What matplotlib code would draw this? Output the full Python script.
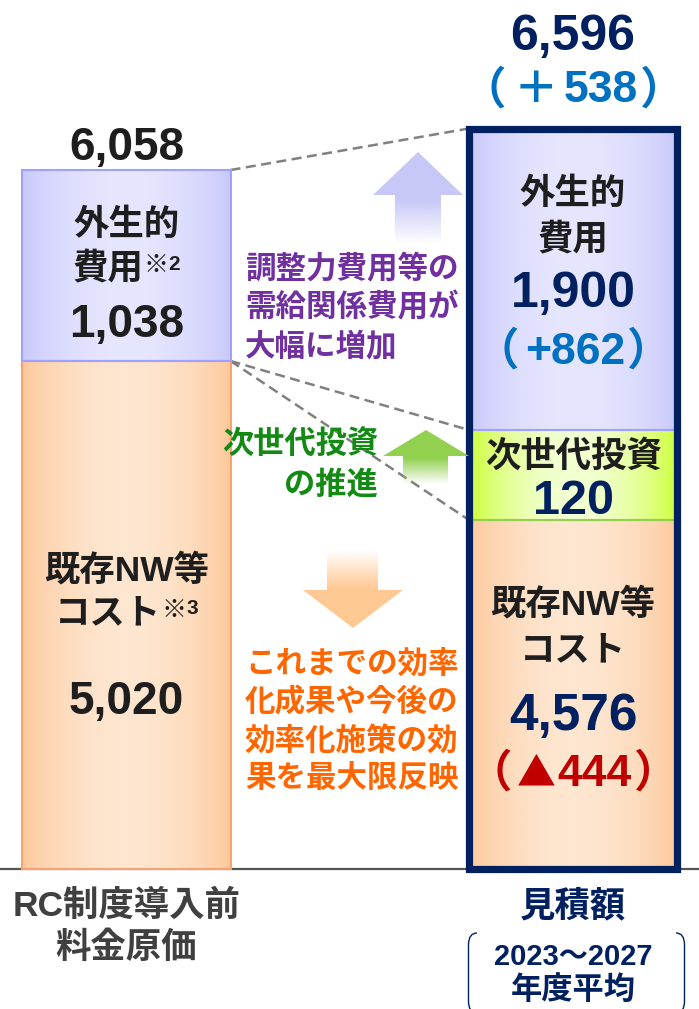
import numpy as np
import matplotlib
matplotlib.use("Agg")
import matplotlib.pyplot as plt
from matplotlib.patches import Polygon, PathPatch
from matplotlib.path import Path

# ---------------- data ----------------
bar_names = ["RC制度導入前\n料金原価", "見積額"]
segment_names = ["既存NW等\nコスト", "次世代投資", "外生的\n費用"]
before_costs = [5020, 0, 1038]
estimate_costs = [4576, 120, 1900]
period_label = ["2023～2027", "年度平均"]
notes = ["調整力費用等の", "需給関係費用が", "大幅に増加"]
invest_note = ["次世代投資", "の推進"]
eff_note = ["これまでの効率", "化成果や今後の", "効率化施策の効", "果を最大限反映"]

before_total = sum(before_costs)
estimate_total = sum(estimate_costs)
diffs = [e - b for e, b in zip(estimate_costs, before_costs)]
total_diff = estimate_total - before_total

# ---------------- style / layout ----------------
W, H = 699, 1009
FAM = ["Liberation Sans", "Noto Sans CJK JP", "DejaVu Sans"]
CJK = ["Noto Sans CJK JP", "DejaVu Sans"]
NAVY = "#002060"
BLUE = "#0070C0"
RED = "#C00000"
BLACK = "#1E1E1E"
PURPLE = "#7030A0"
GREEN_T = "#138A13"
ORANGE_T = "#FF6600"
GREY_T = "#404040"

# schematic (not-to-scale) vertical mapping used in the original slide
anchor_vals = sorted(set([0] + list(np.cumsum(before_costs)) + list(np.cumsum(estimate_costs))))
anchor_px = [0, 349, 439, 508, 699, 740.5]

def fwd(v):
    return np.interp(v, anchor_vals, anchor_px)

def inv(p):
    return np.interp(p, anchor_px, anchor_vals)

BASE_PX = 869

fig = plt.figure(figsize=(W / 100, H / 100), dpi=100)
fig.patch.set_facecolor("white")

ax = fig.add_axes([0, (H - BASE_PX) / H, 1, anchor_px[-1] / H])
ax.set_yscale("function", functions=(fwd, inv))
ax.axis("off")

ov = fig.add_axes([0, 0, 1, 1])
ov.set_xlim(0, W)
ov.set_ylim(H, 0)
ov.axis("off")

PX_PER_UNIT = 446.5
X0_PX = 126.5
xs = [0, 1]
bw = 0.466

def grad_img(edge, center, n=256):
    t = np.linspace(0, 1, n)
    w = np.sin(np.pi * t) ** 0.8
    edge = np.array(matplotlib.colors.to_rgb(edge))
    center = np.array(matplotlib.colors.to_rgb(center))
    rgb = edge[None, :] + (center - edge)[None, :] * w[:, None]
    return rgb[None, :, :]

seg_fill = [("#FDC89A", "#FEE6D0"), ("#CCFF33", "#F2FFD2"), ("#C8C8FA", "#E6E6FF")]
seg_edge = ["#F7A272", "#92D050", "#A0A0FF"]

def draw_stack(xpos, vals):
    bottom = 0
    for i, v in enumerate(vals):
        if v <= 0:
            continue
        bars = ax.bar(xpos, v, bottom=bottom, width=bw, facecolor="none",
                      edgecolor=seg_edge[i], linewidth=1.5, zorder=3, clip_on=False)
        p = bars.patches[0]
        x0 = p.get_x()
        im = ax.imshow(grad_img(*seg_fill[i]), extent=(x0, x0 + p.get_width(), 0, 1),
                       transform=ax.get_xaxis_transform(), aspect="auto",
                       interpolation="bilinear", zorder=2)
        im.set_clip_path(p)
        bottom += v

# baseline
ax.axhline(0, color="#555555", linewidth=1.6, zorder=1, clip_on=False)

draw_stack(xs[0], before_costs)
draw_stack(xs[1], estimate_costs)
outline = ax.bar(xs[1], estimate_total, width=bw, facecolor="none", edgecolor=NAVY,
                 linewidth=5.2, zorder=6, clip_on=False)
outline.patches[0].set_joinstyle("miter")

# dashed connectors
xl, xr = xs[0] + bw / 2, xs[1] - bw / 2
dash = dict(color="#808080", linewidth=1.8, linestyle=(0, (4, 2.2)), zorder=1, clip_on=False)
ax.plot([xl, xr], [before_total, estimate_total], **dash)
ax.plot([xl, xr], [before_costs[0], estimate_costs[0] + estimate_costs[1]], **dash)
ax.plot([xl, xr], [before_costs[0], estimate_costs[0]], **dash)

ax.set_xlim(-X0_PX / PX_PER_UNIT, (W - X0_PX) / PX_PER_UNIT)
ax.set_ylim(0, estimate_total)

# ---------------- arrows ----------------
def arrow(verts, color, y_solid, y_clear):
    poly = Polygon(verts, closed=True, facecolor="none", edgecolor="none", zorder=2)
    ov.add_patch(poly)
    ys = [v[1] for v in verts]
    xs_ = [v[0] for v in verts]
    y0, y1 = min(ys), max(ys)
    n = 200
    yy = np.linspace(y0, y1, n)
    a = np.clip((yy - y_clear) / (y_solid - y_clear), 0, 1)
    rgba = np.zeros((n, 1, 4))
    rgba[:, 0, :3] = matplotlib.colors.to_rgb(color)
    rgba[:, 0, 3] = a
    im = ov.imshow(rgba, extent=(min(xs_), max(xs_), y1, y0), origin="upper",
                   aspect="auto", interpolation="bilinear", zorder=2)
    im.set_clip_path(poly)

arrow([(418, 152), (463, 195), (441, 195), (441, 244), (395, 244), (395, 195), (373, 195)],
      "#C8C8F8", 200, 244)
arrow([(426, 430), (469, 456), (448, 456), (448, 484), (403, 484), (403, 456), (383, 456)],
      "#92D050", 458, 484)
arrow([(327, 550), (378, 550), (378, 590), (403, 590), (353, 628), (303, 590), (327, 590)],
      "#FFC993", 588, 550)

# bracket around period label
def bracket(x_edge, x_in, y0, y1):
    r = 12
    verts = [(x_in, y0), (x_edge, y0), (x_edge, y0 + r), (x_edge, y1 - r), (x_edge, y1), (x_in, y1)]
    codes = [Path.MOVETO, Path.CURVE3, Path.CURVE3, Path.LINETO, Path.CURVE3, Path.CURVE3]
    ov.add_patch(PathPatch(Path(verts, codes), facecolor="none", edgecolor=NAVY, linewidth=1.0, zorder=3))

bracket(468.5, 477, 933, 1013)
bracket(684.5, 676, 933, 1013)

# ---------------- text ----------------
DY = 3

def T(x, y, s, size, color, ha="center", va="center", family=None):
    return ov.text(x, y + DY, s, fontsize=size, color=color, fontweight="bold",
                   family=family or FAM, ha=ha, va=va, zorder=10)

renderer = fig.canvas.get_renderer()

def row(cx, y, parts):
    texts = []
    gaps = []
    for part in parts:
        s, size, color, dy, gap = part[:5]
        fam = part[5] if len(part) > 5 else None
        texts.append(T(0, y + dy, s, size, color, ha="left", family=fam))
        gaps.append(gap)
    widths = [t.get_window_extent(renderer).width for t in texts]
    total = sum(widths) + sum(gaps[1:])
    x = cx - total / 2
    for i, (t, w) in enumerate(zip(texts, widths)):
        if i > 0:
            x += gaps[i]
        t.set_x(x)
        x += w

cxL = X0_PX + xs[0] * PX_PER_UNIT
cxR = X0_PX + xs[1] * PX_PER_UNIT

def fmt(v):
    return f"{v:,}"

# left bar
T(cxL, 145, fmt(before_total), 33, BLACK)
T(cxL, 222, segment_names[2].split("\n")[0], 25.5, BLACK)
row(cxL, 266, [(segment_names[2].split("\n")[1], 25.5, BLACK, 0, 0),
               ("※", 18, BLACK, -4, 0, CJK), ("2", 15, BLACK, -5, 0)])
T(cxL, 322, fmt(before_costs[2]), 33, BLACK)
T(cxL, 567, segment_names[0].split("\n")[0], 25.5, BLACK)
row(cxL, 611, [(segment_names[0].split("\n")[1], 25.5, BLACK, 0, 0),
               ("※", 18, BLACK, -4, 0, CJK), ("3", 15, BLACK, -5, 0)])
T(cxL, 699, fmt(before_costs[0]), 33, BLACK)

# right bar
T(cxR, 34, fmt(estimate_total), 36, NAVY)
row(cxR, 88, [("（", 32, BLUE, 0, 0), ("＋", 32, BLUE, 0, 8), (str(total_diff), 32, BLUE, 0, 6),
              ("）", 32, BLUE, 0, 2)])
T(cxR, 191, segment_names[2].split("\n")[0], 25.5, BLACK)
T(cxR, 237, segment_names[2].split("\n")[1], 25.5, BLACK)
T(cxR, 291, fmt(estimate_costs[2]), 36, NAVY)
row(cxR, 349, [("（", 32, BLUE, 0, 0), (f"+{diffs[2]}", 32, BLUE, 0, 6), ("）", 32, BLUE, 0, 2)])
T(cxR, 454, segment_names[1], 25.5, BLACK)
T(cxR, 498, fmt(estimate_costs[1]), 35, NAVY)
T(cxR, 601, segment_names[0].split("\n")[0], 25.5, BLACK)
T(cxR, 648, segment_names[0].split("\n")[1], 25.5, BLACK)
T(cxR, 713, fmt(estimate_costs[0]), 37, NAVY)
row(cxR, 771, [("（", 32, RED, 0, 0), ("▲", 28, RED, 0, 4, CJK), (str(-diffs[0]), 32, RED, 0, 2),
               ("）", 32, RED, 0, 2)])

# middle annotations
for i, s in enumerate(notes):
    T(245, 266 + i * 39, s, 22, PURPLE, ha="left")
for i, s in enumerate(invest_note):
    T(378, 443 + i * 40, s, 22.5, GREEN_T, ha="right")
for i, s in enumerate(eff_note):
    T(245, 663 + i * 37.7, s, 22, ORANGE_T, ha="left")

# category labels
for i, s in enumerate(bar_names[0].split("\n")):
    T(cxL, 903 + i * 42, s, 25.5, GREY_T)
T(cxR, 903, bar_names[1], 25.5, NAVY)
T(cxR, 954, period_label[0], 21, NAVY)
T(cxR, 988, period_label[1], 22.5, NAVY)

fig.savefig("out.png", dpi=100, facecolor="white")
